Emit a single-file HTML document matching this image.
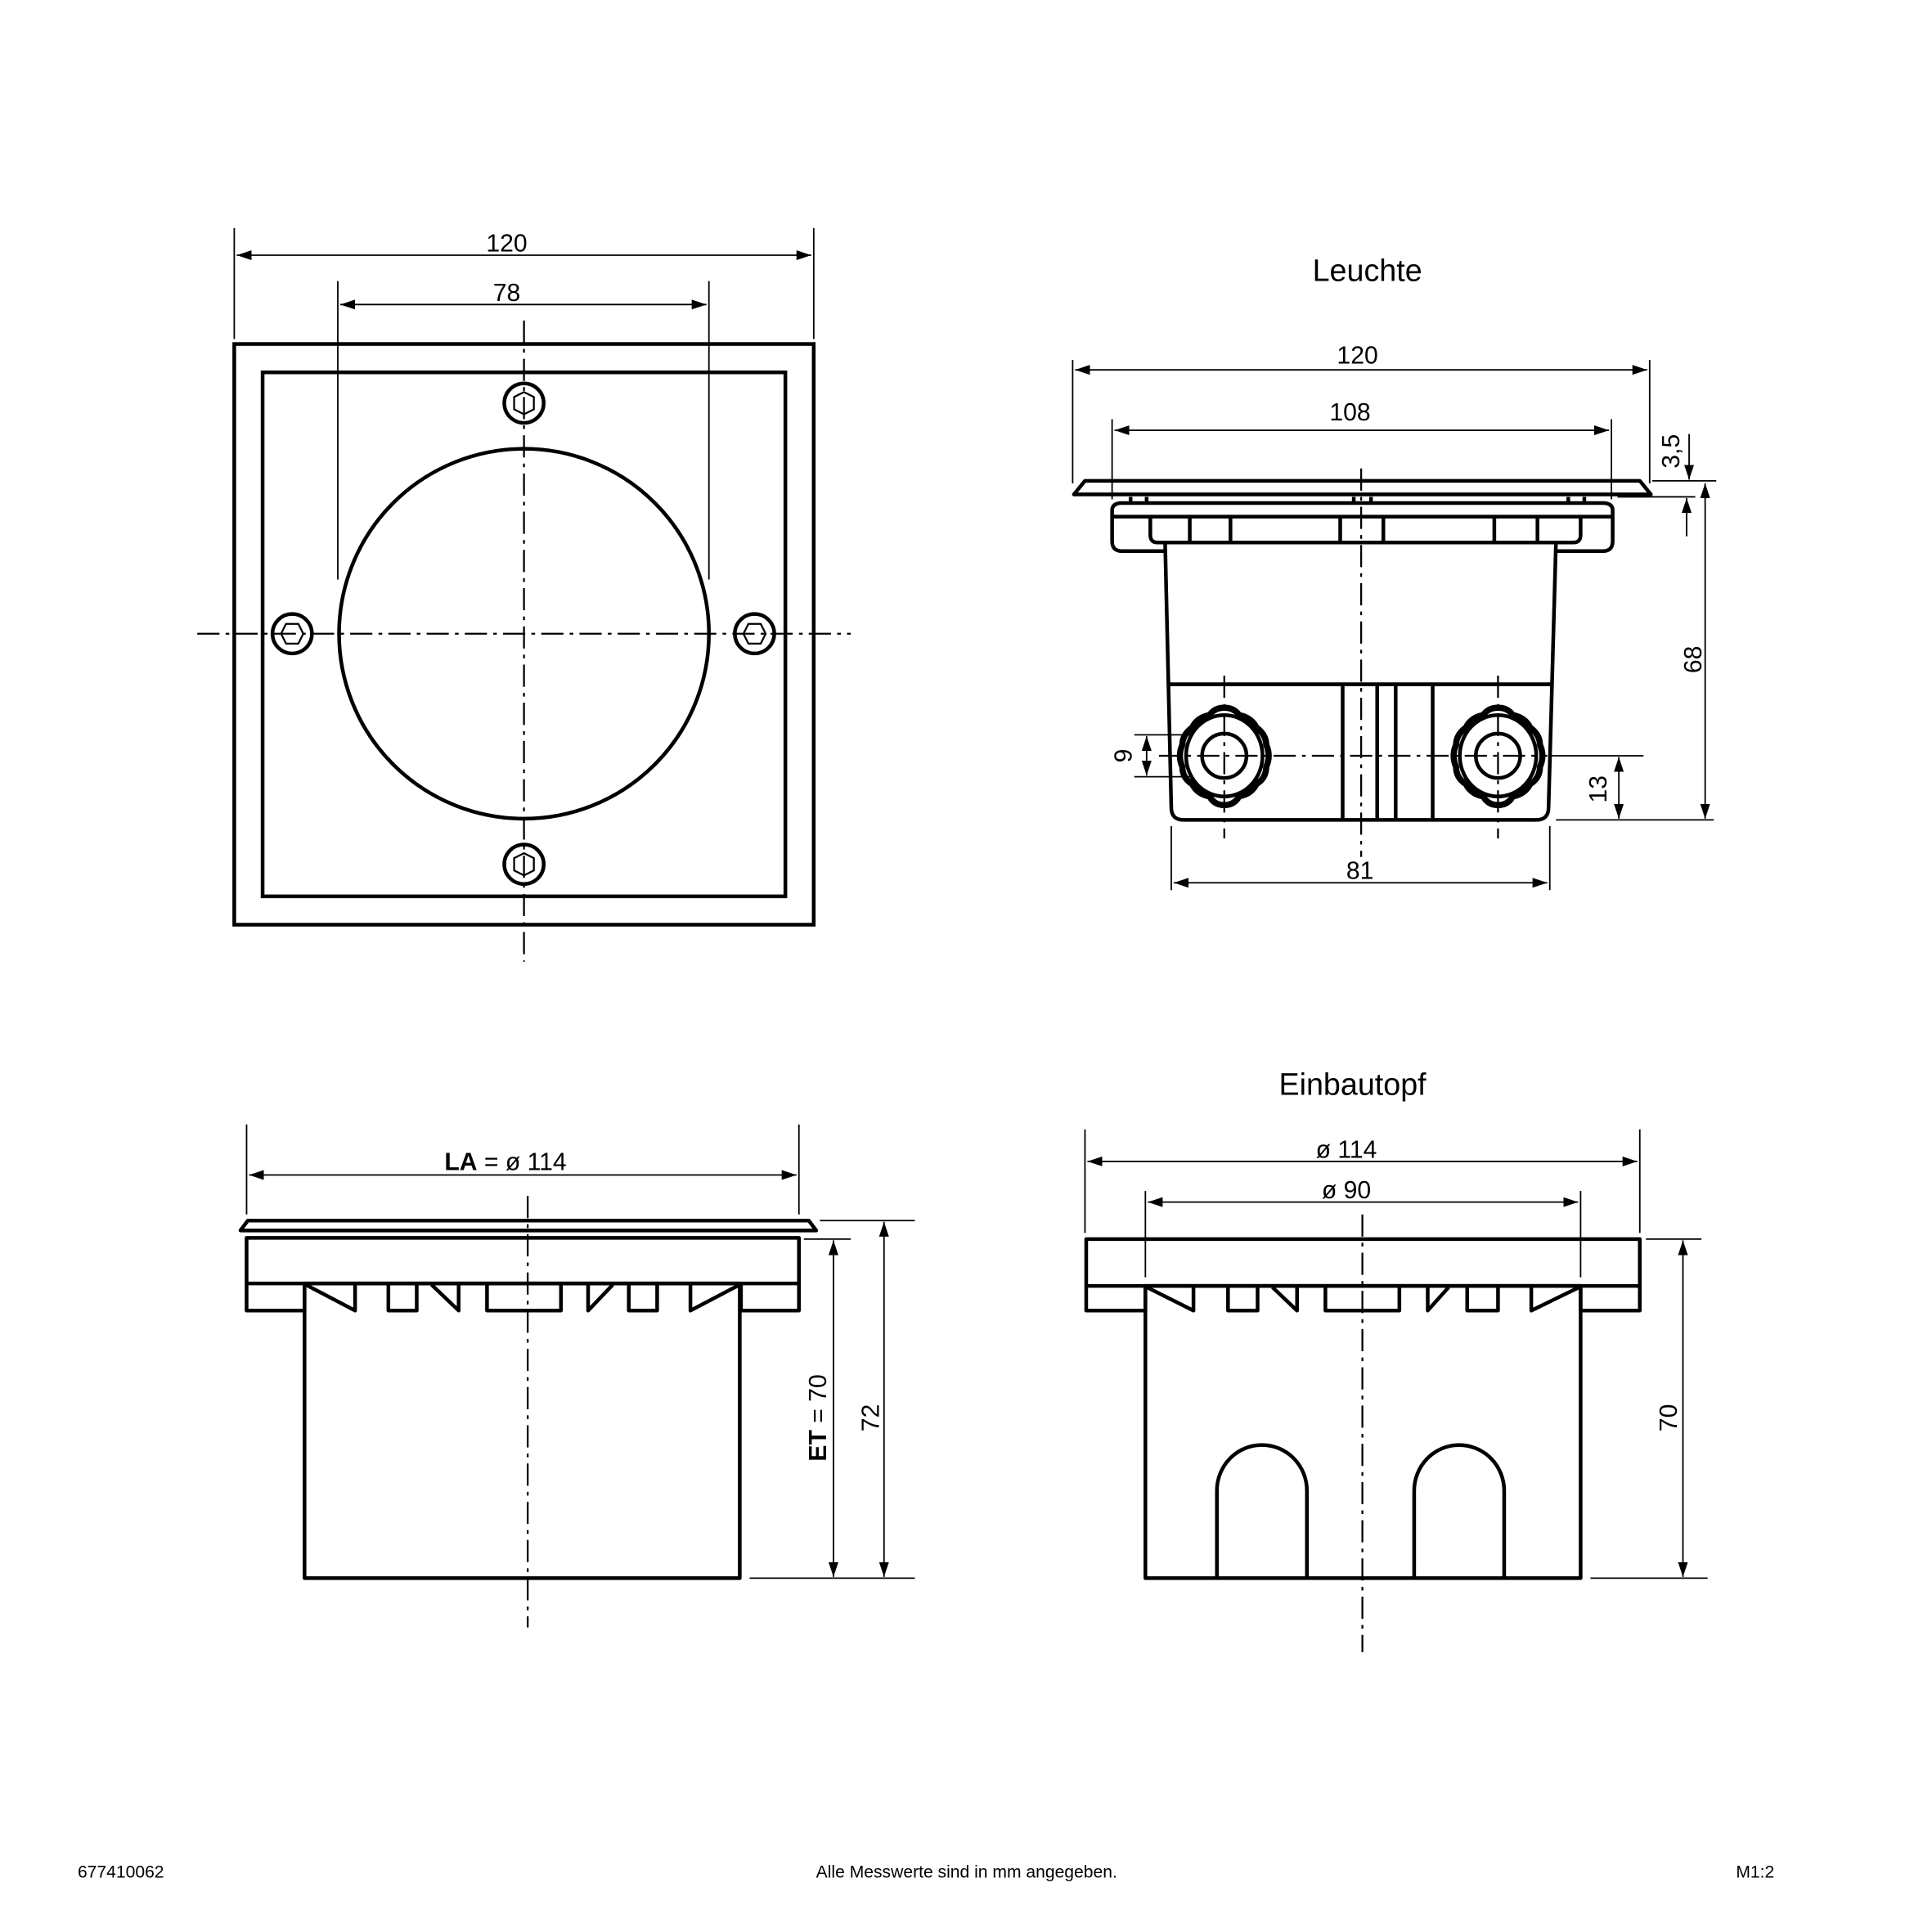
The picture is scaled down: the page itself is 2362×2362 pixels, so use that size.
<!DOCTYPE html>
<html><head><meta charset="utf-8"><style>
html,body{margin:0;padding:0;background:#fff;}
svg{display:block;}
text{font-family:"Liberation Sans",sans-serif;fill:#000;}
</style></head><body>
<svg width="2362" height="2362" viewBox="0 0 1567 1567" xmlns="http://www.w3.org/2000/svg">
<defs>
<marker id="a" viewBox="0 0 12 8" refX="12" refY="4" markerWidth="12" markerHeight="8" markerUnits="userSpaceOnUse" orient="auto-start-reverse"><path d="M0,0 L12,4 L0,8 z" fill="#000"/></marker>
</defs>
<g fill="none" stroke="#000">
<g stroke-width="3">
<rect x="190" y="279" width="470" height="471"/>
<rect x="213" y="302" width="424" height="425"/>
<circle cx="425" cy="514" r="150"/>
<circle cx="425" cy="327" r="16"/><circle cx="425" cy="701" r="16"/>
<circle cx="237" cy="514" r="16"/><circle cx="612" cy="514" r="16"/>
</g>
<g stroke-width="1.5">
<polygon points="425,318 433,322 433,332 425,336 417,332 417,322"/>
<polygon points="425,692 433,696 433,706 425,710 417,706 417,696"/>
<polygon points="228,514 232,506 242,506 246,514 242,522 232,522"/>
<polygon points="603,514 607,506 617,506 621,514 617,522 607,522"/>
</g>
<g stroke-width="1.5" stroke-dasharray="18,5,3,5">
<line x1="160" y1="514" x2="690" y2="514"/>
<line x1="425" y1="260" x2="425" y2="780"/>
</g>
<g stroke-width="1.2">
<line x1="190" y1="185" x2="190" y2="275"/><line x1="660" y1="185" x2="660" y2="275"/>
<line x1="192" y1="207" x2="658" y2="207" marker-start="url(#a)" marker-end="url(#a)"/>
<line x1="274" y1="228" x2="274" y2="470"/><line x1="575" y1="228" x2="575" y2="470"/>
<line x1="276" y1="247" x2="573" y2="247" marker-start="url(#a)" marker-end="url(#a)"/>
</g>

<g stroke-width="3" stroke-linejoin="round">
<polygon points="871,401 880,390 1330,390 1339,401"/>
<line x1="917" y1="403" x2="917" y2="408"/><line x1="930" y1="403" x2="930" y2="408"/>
<line x1="1098" y1="403" x2="1098" y2="408"/><line x1="1112" y1="403" x2="1112" y2="408"/>
<line x1="1272" y1="403" x2="1272" y2="408"/><line x1="1285" y1="403" x2="1285" y2="408"/>
<path d="M945,447 H910 Q902,447 902,439 V414 Q902,408 910,408 H1300 Q1308,408 1308,414 V439 Q1308,447 1300,447 H1262"/>
<line x1="903" y1="419" x2="1307" y2="419"/>
<path d="M933,419 V434 Q933,440 939,440 H1276 Q1282,440 1282,434 V419"/>
<line x1="965" y1="419" x2="965" y2="440"/><line x1="998" y1="419" x2="998" y2="440"/>
<line x1="1087" y1="419" x2="1087" y2="440"/><line x1="1122" y1="419" x2="1122" y2="440"/>
<line x1="1212" y1="419" x2="1212" y2="440"/><line x1="1247" y1="419" x2="1247" y2="440"/>
<path d="M945,440 L950,655 Q950,665 960,665 H1246 Q1256,665 1256,655 L1262,440"/>
<line x1="948" y1="555" x2="1258" y2="555"/>
<line x1="1089" y1="555" x2="1089" y2="665"/><line x1="1117" y1="555" x2="1117" y2="665"/>
<line x1="1132" y1="555" x2="1132" y2="665"/><line x1="1162" y1="555" x2="1162" y2="665"/>
</g>
<g stroke-width="5">
<path d="M993,574 q8,0 12,6 q10,2 14,10 q8,6 8,14 q4,9 0,18 q0,9 -8,14 q-4,8 -14,10 q-4,7 -12,7 q-8,0 -12,-7 q-10,-2 -14,-10 q-8,-5 -8,-14 q-4,-9 0,-18 q0,-8 8,-14 q4,-8 14,-10 q4,-6 12,-6z"/>
<path d="M1215,574 q8,0 12,6 q10,2 14,10 q8,6 8,14 q4,9 0,18 q0,9 -8,14 q-4,8 -14,10 q-4,7 -12,7 q-8,0 -12,-7 q-10,-2 -14,-10 q-8,-5 -8,-14 q-4,-9 0,-18 q0,-8 8,-14 q4,-8 14,-10 q4,-6 12,-6z"/>
</g>
<g stroke-width="3">
<ellipse cx="993" cy="613" rx="31" ry="33"/><ellipse cx="1215" cy="613" rx="31" ry="33"/>
<ellipse cx="993" cy="613" rx="18" ry="18"/><ellipse cx="1215" cy="613" rx="18" ry="18"/>
</g>
<g stroke-width="1.5" stroke-dasharray="18,5,3,5">
<line x1="1104" y1="380" x2="1104" y2="695"/>
<line x1="940" y1="613" x2="1255" y2="613"/>
<line x1="993" y1="548" x2="993" y2="680"/><line x1="1215" y1="548" x2="1215" y2="680"/>
</g>
<g stroke-width="1.2">
<line x1="870" y1="292" x2="870" y2="392"/><line x1="1338" y1="292" x2="1338" y2="392"/>
<line x1="872" y1="300" x2="1336" y2="300" marker-start="url(#a)" marker-end="url(#a)"/>
<line x1="902" y1="340" x2="902" y2="405"/><line x1="1307" y1="340" x2="1307" y2="405"/>
<line x1="904" y1="349" x2="1305" y2="349" marker-start="url(#a)" marker-end="url(#a)"/>
<line x1="1340" y1="390" x2="1392" y2="390"/><line x1="1312" y1="403" x2="1375" y2="403"/>
<line x1="1370" y1="352" x2="1370" y2="389" marker-end="url(#a)"/>
<line x1="1368" y1="435" x2="1368" y2="404" marker-end="url(#a)"/>
<line x1="1383" y1="392" x2="1383" y2="664" marker-start="url(#a)" marker-end="url(#a)"/>
<line x1="1262" y1="665" x2="1390" y2="665"/>
<line x1="920" y1="596" x2="968" y2="596"/><line x1="920" y1="630" x2="968" y2="630"/>
<line x1="930" y1="597" x2="930" y2="629" marker-start="url(#a)" marker-end="url(#a)"/>
<line x1="1258" y1="613" x2="1333" y2="613"/>
<line x1="1313" y1="614" x2="1313" y2="664" marker-start="url(#a)" marker-end="url(#a)"/>
<line x1="950" y1="670" x2="950" y2="722"/><line x1="1257" y1="670" x2="1257" y2="722"/>
<line x1="952" y1="716" x2="1255" y2="716" marker-start="url(#a)" marker-end="url(#a)"/>
</g>

<g stroke-width="3" stroke-linejoin="round">
<polygon points="195,998 201,990 656,990 662,998"/>
<rect x="200" y="1004" width="448" height="37"/>
<path d="M247,1041 V1063 H200 V1041"/>
<path d="M601,1041 V1063 H648 V1041"/>
<path d="M248,1042 L288,1063 V1042"/>
<path d="M315,1042 V1063 H338 V1042"/>
<path d="M350,1042 L372,1063 V1042"/>
<path d="M395,1042 V1063 H455 V1042"/>
<path d="M497,1042 L477,1063 V1042"/>
<path d="M510,1042 V1063 H533 V1042"/>
<path d="M600,1042 L560,1063 V1042"/>
<rect x="247" y="1041" width="353" height="239"/>
</g>
<line x1="428" y1="970" x2="428" y2="1320" stroke-width="1.5" stroke-dasharray="18,5,3,5"/>
<g stroke-width="1.2">
<line x1="200" y1="912" x2="200" y2="985"/><line x1="648" y1="912" x2="648" y2="985"/>
<line x1="202" y1="953" x2="646" y2="953" marker-start="url(#a)" marker-end="url(#a)"/>
<line x1="665" y1="990" x2="742" y2="990"/><line x1="652" y1="1005" x2="690" y2="1005"/>
<line x1="608" y1="1280" x2="742" y2="1280"/>
<line x1="676" y1="1006" x2="676" y2="1279" marker-start="url(#a)" marker-end="url(#a)"/>
<line x1="717" y1="991" x2="717" y2="1279" marker-start="url(#a)" marker-end="url(#a)"/>
</g>

<g stroke-width="3" stroke-linejoin="round">
<rect x="881" y="1005" width="449" height="38"/>
<path d="M929,1043 V1063 H881 V1043"/>
<path d="M1282,1043 V1063 H1330 V1043"/>
<path d="M930,1044 L968,1063 V1044"/>
<path d="M996,1044 V1063 H1020 V1044"/>
<path d="M1032,1044 L1052,1063 V1044"/>
<path d="M1075,1044 V1063 H1135 V1044"/>
<path d="M1175,1044 L1158,1063 V1044"/>
<path d="M1190,1044 V1063 H1215 V1044"/>
<path d="M1281,1044 L1242,1063 V1044"/>
<rect x="929" y="1043" width="353" height="237"/>
<path d="M987,1280 V1209 A36.5,37 0 0 1 1060,1209 V1280"/>
<path d="M1147,1280 V1209 A36.5,37 0 0 1 1220,1209 V1280"/>
</g>
<line x1="1105" y1="985" x2="1105" y2="1340" stroke-width="1.5" stroke-dasharray="18,5,3,5"/>
<g stroke-width="1.2">
<line x1="880" y1="916" x2="880" y2="1000"/><line x1="1330" y1="916" x2="1330" y2="1000"/>
<line x1="882" y1="942" x2="1328" y2="942" marker-start="url(#a)" marker-end="url(#a)"/>
<line x1="929" y1="966" x2="929" y2="1036"/><line x1="1282" y1="966" x2="1282" y2="1036"/>
<line x1="931" y1="975" x2="1280" y2="975" marker-start="url(#a)" marker-end="url(#a)"/>
<line x1="1335" y1="1005" x2="1380" y2="1005"/><line x1="1290" y1="1280" x2="1385" y2="1280"/>
<line x1="1365" y1="1006" x2="1365" y2="1279" marker-start="url(#a)" marker-end="url(#a)"/>
</g>
</g>

<g font-size="20" text-anchor="middle">
<text x="411" y="204">120</text>
<text x="411" y="244">78</text>
<text x="1109" y="228" font-size="25">Leuchte</text>
<text x="1101" y="295">120</text>
<text x="1095" y="341">108</text>
<text x="1103" y="713">81</text>
<text transform="translate(1362,366) rotate(-90)">3,5</text>
<text transform="translate(1380,535) rotate(-90)">68</text>
<text transform="translate(918,613) rotate(-90)">9</text>
<text transform="translate(1303,640) rotate(-90)">13</text>
<text x="410" y="949"><tspan font-weight="bold">LA</tspan> = ø 114</text>
<text transform="translate(670,1150) rotate(-90)"><tspan font-weight="bold">ET</tspan> = 70</text>
<text transform="translate(713,1150) rotate(-90)">72</text>
<text x="1097" y="888" font-size="25">Einbautopf</text>
<text x="1092" y="939">ø 114</text>
<text x="1092" y="972">ø 90</text>
<text transform="translate(1360,1150) rotate(-90)">70</text>
</g>
<g font-size="14">
<text x="63" y="1523">677410062</text>
<text x="784" y="1523" text-anchor="middle">Alle Messwerte sind in mm angegeben.</text>
<text x="1408" y="1523">M1:2</text>
</g>
</svg>
</body></html>
